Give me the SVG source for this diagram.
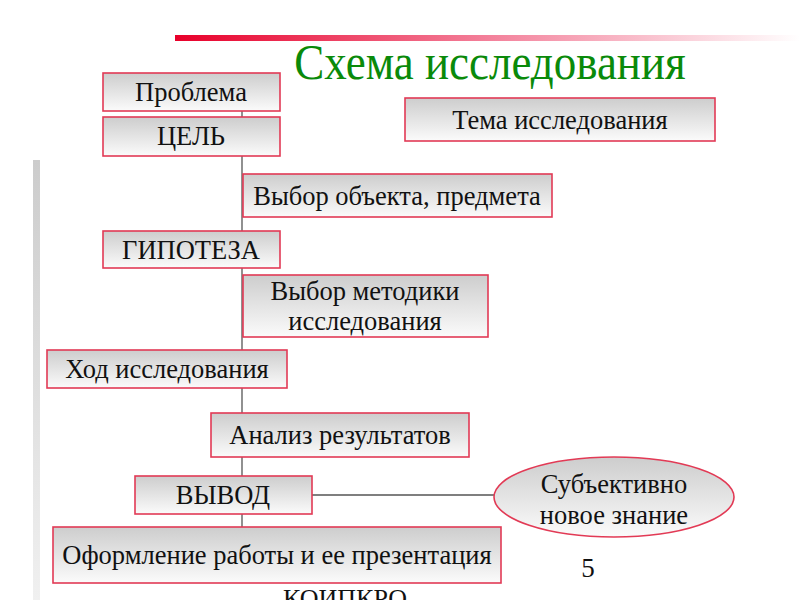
<svg xmlns="http://www.w3.org/2000/svg" width="800" height="600" viewBox="0 0 800 600">
<defs>
<linearGradient id="bar" x1="0" y1="0" x2="1" y2="0">
<stop offset="0" stop-color="#e8002a"/>
<stop offset="0.5" stop-color="#f3809a"/>
<stop offset="1" stop-color="#ffffff"/>
</linearGradient>
<linearGradient id="box" x1="0" y1="0" x2="0" y2="1">
<stop offset="0" stop-color="#cdcdcd"/>
<stop offset="1" stop-color="#fbfbfb"/>
</linearGradient>
<linearGradient id="sidefade" x1="0" y1="0" x2="0" y2="1">
<stop offset="0" stop-color="#cccccc"/>
<stop offset="1" stop-color="#f0f0f0"/>
</linearGradient>
</defs>
<style>
.b{fill:url(#box);stroke:#e23a55;stroke-width:1.6}
.t{font-family:"Liberation Serif","Times New Roman",serif;font-size:26.5px;fill:#111;text-anchor:middle}
.c{stroke:#555;stroke-width:1.3;fill:none}
</style>
<rect x="175" y="35" width="625" height="6" fill="url(#bar)"/>
<rect x="33" y="160" width="7" height="440" fill="url(#sidefade)"/>
<text x="490" y="70" transform="translate(0,79) scale(1,1.13) translate(0,-70)" font-family="Liberation Serif, serif" font-size="45" fill="#0a8a0a" text-anchor="middle" transform-origin="0 0">Схема исследования</text>
<g id="connectors">
<line class="c" x1="242" y1="111" x2="242" y2="527"/>
<line class="c" x1="312" y1="495" x2="494" y2="495"/>
</g>
<g id="problema"><rect class="b" x="103" y="73" width="177" height="38"/><text class="t" x="191" y="101">Проблема</text></g>
<g id="cel"><rect class="b" x="103" y="117" width="177" height="39"/><text class="t" x="191" y="145">ЦЕЛЬ</text></g>
<g id="tema"><rect class="b" x="405" y="98" width="310" height="43"/><text class="t" x="560" y="128.5">Тема исследования</text></g>
<g id="vybor-obekta"><rect class="b" x="243" y="174" width="309" height="43"/><text class="t" x="397" y="204.5">Выбор объекта, предмета</text></g>
<g id="gipoteza"><rect class="b" x="103" y="231" width="177" height="37"/><text class="t" x="191" y="258.5">ГИПОТЕЗА</text></g>
<g id="vybor-metodiki"><rect class="b" x="243" y="275" width="245" height="62"/><text class="t" x="365" y="300">Выбор методики</text><text class="t" x="365" y="330">исследования</text></g>
<g id="hod"><rect class="b" x="47" y="350" width="240" height="38"/><text class="t" x="167" y="378">Ход исследования</text></g>
<g id="analiz"><rect class="b" x="211" y="413" width="258" height="44"/><text class="t" x="340" y="444">Анализ результатов</text></g>
<g id="vyvod"><rect class="b" x="135" y="476" width="177" height="38"/><text class="t" x="223" y="504">ВЫВОД</text></g>
<g id="oformlenie"><rect class="b" x="53" y="527" width="448" height="56"/><text class="t" x="277" y="564">Оформление работы и ее презентация</text></g>
<g id="znanie"><ellipse class="b" cx="614" cy="497" rx="120" ry="40"/><text class="t" x="614" y="493">Субъективно</text><text class="t" x="614" y="524">новое знание</text></g>
<text x="588" y="577" font-family="Liberation Serif, serif" font-size="27" fill="#111" text-anchor="middle">5</text>
<text x="345" y="607" font-family="Liberation Serif, serif" font-size="26" fill="#111" text-anchor="middle">КОИПКРО</text>
</svg>
